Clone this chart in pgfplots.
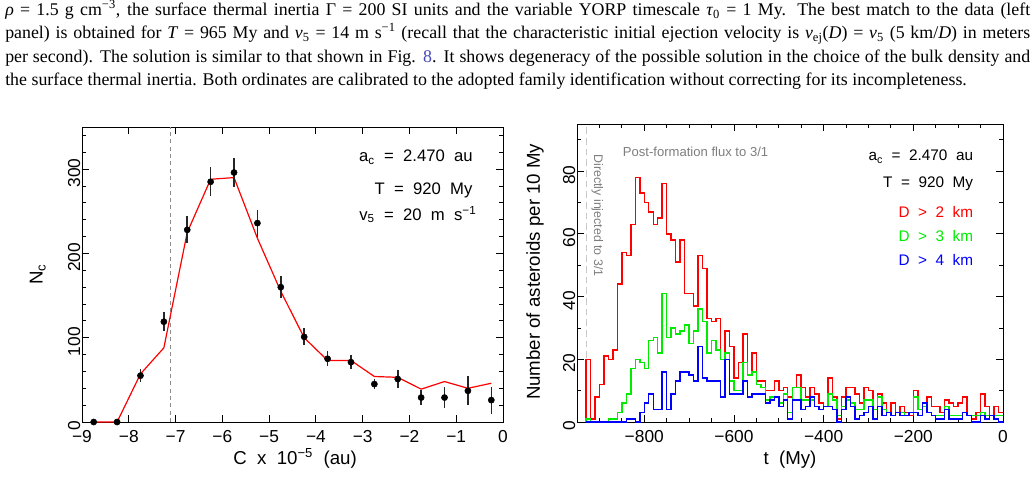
\documentclass[border=0pt]{standalone}
\usepackage{pgfplots}
\pgfplotsset{compat=1.18}
\usepackage{pgfplotstable}
\usepackage{fontspec}
\setmainfont{Liberation Serif}
\newfontfamily\plotfont{Liberation Sans}
\definecolor{hred}{RGB}{255,0,0}
\definecolor{hgreen}{RGB}{0,235,0}
\definecolor{hblue}{RGB}{0,0,255}
\definecolor{linkblue}{RGB}{70,70,180}
\definecolor{txtgray}{RGB}{125,125,125}
\definecolor{dashgray}{RGB}{140,140,140}
\definecolor{dashlight}{RGB}{200,200,200}

\pgfplotstableread{
c n e m
-8.75 0 0 0
-8.25 0 0 0
-7.75 55 8 57
-7.25 119 11 88
-6.75 228 16 225
-6.25 285 17 288
-5.75 296 17 290
-5.25 236 16 218
-4.75 160 13 155
-4.25 101 10 100
-3.75 75 9 73
-3.25 71 8.5 73
-2.75 45 6 54
-2.25 51 10.5 53
-1.75 29 9 39
-1.25 29 12.5 48
-0.75 37 17 40
-0.25 26 16 46
}\ncdata

\pgfplotstableread{
t r g b
-930 0 0 0
-930 20 1 0
-920 1 0 0
-910 8 0 0
-900 12 0 0
-890 21 0 0
-880 20 1 0
-870 23 1 0
-860 44 3 0
-850 54 6 0
-840 53 9 1
-830 63 17 1
-820 78 20 0
-810 73 19 3
-800 70 17 6
-790 67 26 9
-780 63 27 4
-770 65 22 4
-760 76 41 16
-750 60 27 4
-740 58 30 9
-730 51 28 13
-720 58 29 16
-710 41 31 16
-700 41 25 15
-690 37 29 13
-680 53 36 24
-670 49 32 14
-660 33 22 13
-650 32 26 13
-640 33 23 13
-630 20 20 8
-620 29 22 20
-610 24 13 9
-600 14 10 9
-590 19 10 9
-580 28 19 13
-570 15 15 8
-560 22 16 9
-550 13 12 9
-540 13 11 9
-530 10 7 6
-520 10 8 7
-510 13 8 8
-500 10 6 5
-490 11 9 7
-480 8 3 1
-470 11 11 7
-460 15 11 7
-450 11 7 4
-440 8 7 5
-430 11 7 8
-420 9 5 5
-410 6 4 4
-400 5 5 5
-390 14 9 5
-380 8 7 4
-370 1 2 0
-360 8 5 4
-350 11 7 8
-340 11 6 5
-330 9 4 1
-320 6 4 2
-310 11 7 3
-300 10 7 5
-290 4 4 1
-280 9 8 5
-270 6 4 2
-260 3 3 3
-250 6 2 2
-240 3 3 3
-230 5 3 2
-220 3 2 2
-210 2 3 3
-200 10 8 3
-190 4 4 2
-180 6 5 6
-170 8 3 3
-160 5 2 2
-150 5 2 1
-140 3 2 1
-130 7 5 4
-120 6 2 1
-110 5 2 1
-100 6 2 1
-90 8 3 3
-80 2 2 2
-70 1 2 0
-60 3 2 0
-50 9 3 2
-40 5 2 1
-30 2 2 2
-20 5 2 1
-10 3 2 0
0 3 2 0
}\histdata

\pgfplotsset{
  pgstyle/.style={
    scale only axis, anchor=south west,
    tick align=inside,
    major tick length=5.5pt, minor tick length=2.8pt,
    tick style={black, line width=0.6pt},
    axis line style={line width=0.7pt},
    tick label style={font=\plotfont\fontsize{13pt}{15pt}\selectfont},
    label style={font=\plotfont\fontsize{14pt}{16pt}\selectfont},
    yticklabel style={rotate=90, anchor=south, inner sep=1pt, xshift=-3pt},
    xticklabel style={anchor=north, inner sep=1pt, yshift=-5pt},
  }
}

\newcommand\ptxt{\fontsize{13.4pt}{18pt}\selectfont}

\begin{document}
\begin{tikzpicture}
\path[use as bounding box] (0,0) rectangle (776.25pt,-357pt);

\node[anchor=base west, inner sep=0pt, font=\ptxt] at (3.75pt,-11.6pt) {\makebox[768.75pt][s]{\textit{ρ} = 1.5 g cm\textsuperscript{−3}, the surface thermal inertia Γ = 200 SI units and the variable YORP timescale \textit{τ}\textsubscript{0} = 1 My. The best match to the data (left}};
\node[anchor=base west, inner sep=0pt, font=\ptxt] at (3.75pt,-29.2pt) {\makebox[768.75pt][s]{panel) is obtained for \textit{T} = 965 My and \textit{v}\textsubscript{5} = 14 m s\textsuperscript{−1} (recall that the characteristic initial ejection velocity is \textit{v}\textsubscript{ej}(\textit{D}) = \textit{v}\textsubscript{5} (5 km/\textit{D}) in meters}};
\node[anchor=base west, inner sep=0pt, font=\ptxt] at (3.75pt,-46.8pt) {\makebox[768.75pt][s]{per second). The solution is similar to that shown in Fig. \textcolor{linkblue}{8}. It shows degeneracy of the possible solution in the choice of the bulk density and}};
\node[anchor=base west, inner sep=0pt, font=\ptxt] at (3.75pt,-64.4pt) {the surface thermal inertia. Both ordinates are calibrated to the adopted family identification without correcting for its incompleteness.};

% ---------------- left panel ----------------
\begin{axis}[pgstyle,
  at={(61.5pt,-316.5pt)}, width=315.75pt, height=221.25pt,
  xmin=-9, xmax=0, ymin=0, ymax=350,
  xtick={-9,-8,-7,-6,-5,-4,-3,-2,-1,0},
  xticklabels={−9,−8,−7,−6,−5,−4,−3,−2,−1,0},
  ytick={0,100,200,300}, yticklabels={0,100,200,300},
  minor ytick={20,40,60,80,120,140,160,180,220,240,260,280,320,340},
  xlabel={C\ \ x\ \ 10\textsuperscript{−5}\ \ (au)},
  ylabel={N\textsubscript{c}},
  xlabel style={at={(axis description cs:0.506,-0.122)}, anchor=center},
  ylabel style={at={(axis description cs:-0.105,0.5)}, anchor=center},
]
\addplot[dashgray, line width=0.6pt, dash pattern=on 3pt off 2.5pt] coordinates {(-7.1,0) (-7.1,350)};
\addplot[hred, line width=0.9pt] table[x=c, y=m] {\ncdata};
\addplot[only marks, mark=*, mark size=2.3pt, black,
  error bars/.cd, y dir=both, y explicit, error mark=none,
  error bar style={line width=1.2pt, black!85}]
  table[x=c, y=n, y error=e] {\ncdata};
\end{axis}

% ---------------- right panel ----------------
\begin{axis}[pgstyle,
  at={(432.75pt,-316.5pt)}, width=319.5pt, height=223.5pt,
  xmin=-950, xmax=0, ymin=0, ymax=95,
  xtick={-800,-600,-400,-200,0},
  xticklabels={−800,−600,−400,−200,0},
  minor xtick={-900,-850,-750,-700,-650,-550,-500,-450,-350,-300,-250,-150,-100,-50},
  ytick={0,20,40,60,80}, yticklabels={0,20,40,60,80},
  minor ytick={10,30,50,70,90},
  xlabel={t\ \ (My)},
  ylabel={Number\ of\ asteroids\ per\ 10\ My},
  xlabel style={at={(axis description cs:0.5,-0.1275)}, anchor=center},
  ylabel style={at={(axis description cs:-0.0986,0.504)}, anchor=center},
]
\addplot[dashlight, line width=0.9pt, dash pattern=on 5pt off 3pt] coordinates {(-928,0) (-928,95)};
\addplot[hred, line width=1.1pt, const plot mark left] table[x=t, y=r] {\histdata};
\addplot[hgreen, line width=1.1pt, const plot mark left] table[x=t, y=g] {\histdata};
\addplot[hblue, line width=1.1pt, const plot mark left] table[x=t, y=b] {\histdata};
\end{axis}

% annotations left
\begin{scope}[every node/.style={inner sep=0pt, font=\plotfont\fontsize{12.5pt}{14pt}\selectfont}]
\node[anchor=base east] at (354.75pt,-121.3pt) {a\textsubscript{c}\ \ =\ \ 2.470\ \ au};
\node[anchor=base east] at (354.5pt,-145.5pt) {T\ \ =\ \ 920\ \ My};
\node[anchor=base east] at (357.5pt,-165pt) {v\textsubscript{5}\ \ =\ \ 20\ \ m\ \ s\textsuperscript{−1}};
\end{scope}
% annotations right
\begin{scope}[every node/.style={inner sep=0pt, font=\plotfont\fontsize{11.5pt}{13pt}\selectfont}]
\node[anchor=base east] at (730pt,-120.5pt) {a\textsubscript{c}\ \ =\ \ 2.470\ \ au};
\node[anchor=base east] at (730pt,-140.5pt) {T\ \ =\ \ 920\ \ My};
\node[anchor=base east, text=hred] at (730pt,-163.3pt) {D\ \ >\ \ 2\ \ km};
\node[anchor=base east, text=hgreen] at (730pt,-180.75pt) {D\ \ >\ \ 3\ \ km};
\node[anchor=base east, text=hblue] at (730pt,-198.75pt) {D\ \ >\ \ 4\ \ km};
\node[anchor=base west, text=txtgray, font=\plotfont\fontsize{9.8pt}{11pt}\selectfont] at (467pt,-117.5pt) {Post-formation\ flux\ to\ 3/1};
\node[anchor=base west, rotate=-90, text=txtgray, font=\plotfont\fontsize{9.3pt}{11pt}\selectfont] at (445.5pt,-115.7pt) {Directly\ injected\ to\ 3/1};
\end{scope}
\end{tikzpicture}
\end{document}
